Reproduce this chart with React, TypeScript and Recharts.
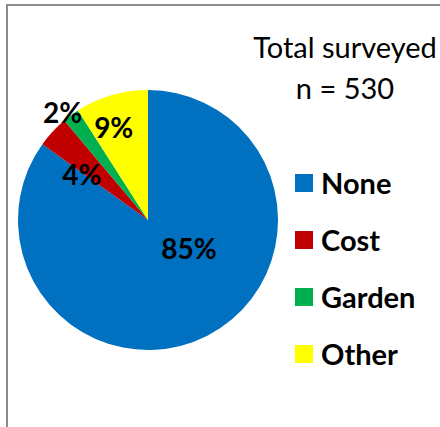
import { PieChart, Pie, Cell, Legend } from "recharts";

const categories = ["None", "Cost", "Garden", "Other"];
const counts = [450, 21, 11, 48];
const colors = ["#0070C0", "#C00000", "#00B050", "#FFFF00"];
const titleLines = ["Total surveyed", "n = 530"];

const data = categories.map((name, i) => ({ name, value: counts[i] }));
const total = counts.reduce((a, b) => a + b, 0);

const FONT = "Lato, 'Open Sans', sans-serif";
const RADIAN = Math.PI / 180;

// Excel "best fit" label spots: [angle shift from mid, radius fraction]
const labelPlacement: Record<string, [number, number]> = {
  None: [29, 0.38],
  Cost: [8, 0.62],
  Garden: [2, 1.06],
  Other: [4, 0.76],
};

function renderLabel(props: any) {
  const { cx, cy, midAngle, outerRadius, name, value } = props;
  const [shift, frac] = labelPlacement[name] ?? [0, 0.6];
  const a = (midAngle + shift) * RADIAN;
  const r = outerRadius * frac;
  const x = cx + r * Math.cos(a);
  const y = cy - r * Math.sin(a);
  return (
    <text
      x={x}
      y={y}
      textAnchor="middle"
      dominantBaseline="central"
      fontFamily={FONT}
      fontWeight={700}
      fontSize={28}
      fill="#000"
    >
      {`${Math.round((value / total) * 100)}%`}
    </text>
  );
}

function LegendList() {
  return (
    <div style={{ fontFamily: FONT }}>
      {categories.map((c, i) => (
        <div
          key={c}
          style={{ display: "flex", alignItems: "center", height: 57 }}
        >
          <span
            style={{
              width: 18,
              height: 18,
              background: colors[i],
              display: "inline-block",
              marginRight: 8,
            }}
          />
          <span style={{ fontSize: 29, fontWeight: 700, color: "#000" }}>
            {c}
          </span>
        </div>
      ))}
    </div>
  );
}

export default function App() {
  return (
    <div
      style={{
        position: "absolute",
        left: 0,
        top: 0,
        width: 440,
        height: 427,
        overflow: "hidden",
        background: "#fff",
      }}
    >
      <div
        style={{
          position: "absolute",
          left: 6,
          top: 4,
          width: 460,
          height: 460,
          borderLeft: "2px solid #8c8c8c",
          borderTop: "2px solid #8c8c8c",
        }}
      />
      <div
        style={{
          position: "absolute",
          left: 245,
          top: 26,
          width: 200,
          textAlign: "center",
          fontFamily: FONT,
          fontSize: 29,
          lineHeight: "41px",
          color: "#000",
          whiteSpace: "nowrap",
        }}
      >
        {titleLines.map((t) => (
          <div key={t}>{t}</div>
        ))}
      </div>
      <PieChart
        width={440}
        height={427}
        margin={{ top: 0, right: 0, bottom: 0, left: 0 }}
        style={{ position: "absolute", left: 0, top: 0 }}
      >
        <Pie
          data={data}
          dataKey="value"
          nameKey="name"
          cx={148}
          cy={220}
          outerRadius={130}
          startAngle={90}
          endAngle={-270}
          stroke="none"
          label={renderLabel}
          labelLine={false}
          isAnimationActive={false}
        >
          {data.map((d, i) => (
            <Cell key={d.name} fill={colors[i]} />
          ))}
        </Pie>
        <Legend
          content={() => <LegendList />}
          wrapperStyle={{ position: "absolute", left: 295, top: 154, width: 145 }}
        />
      </PieChart>
    </div>
  );
}
